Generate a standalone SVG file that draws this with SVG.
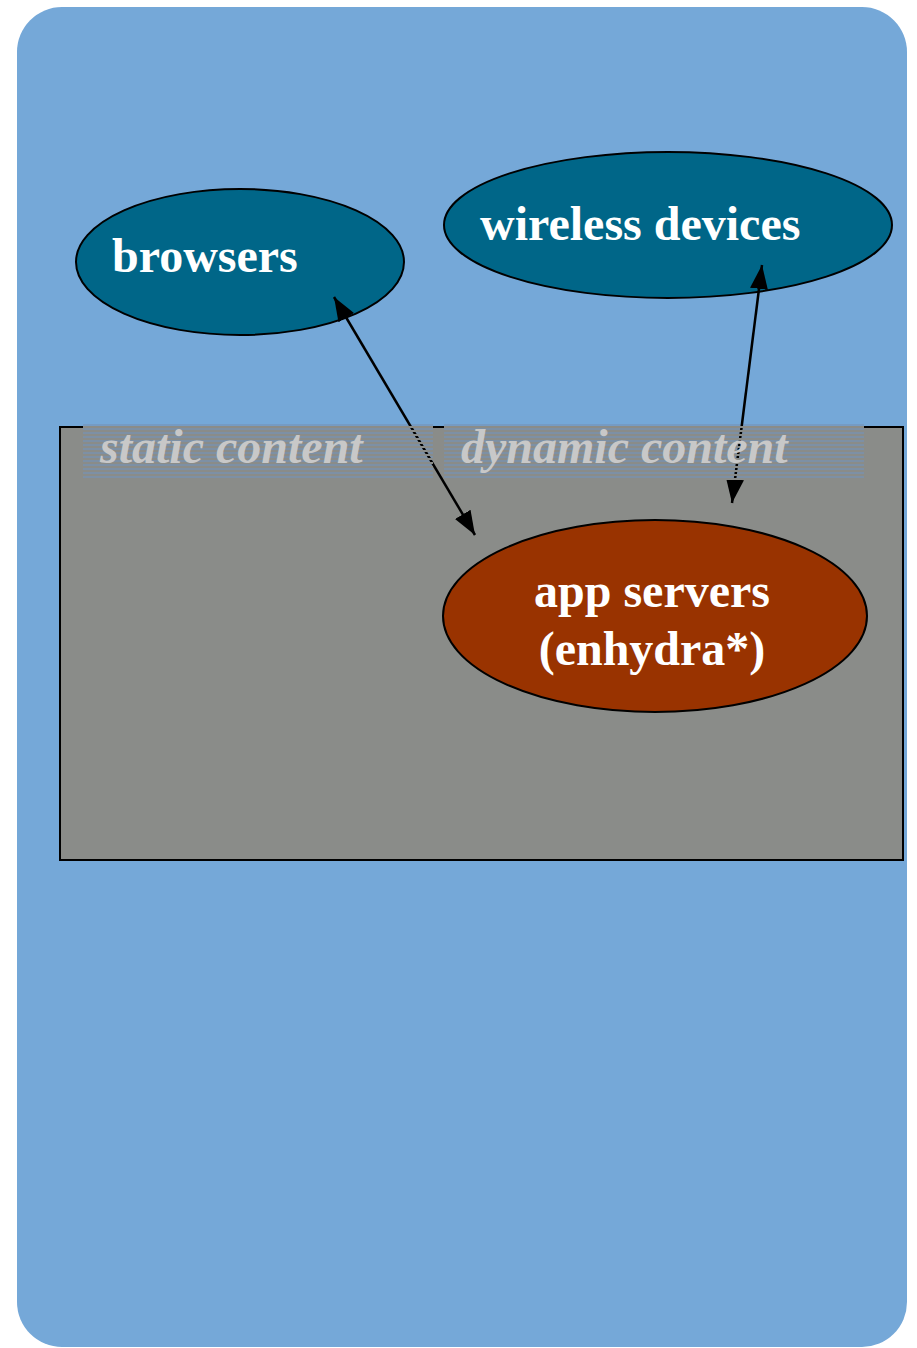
<svg xmlns="http://www.w3.org/2000/svg" width="917" height="1348" viewBox="0 0 917 1348">
<defs>
<pattern id="stripes" width="10" height="4" patternUnits="userSpaceOnUse" x="0" y="424">
<rect x="0" y="2" width="10" height="2" fill="#8a8c89"/>
</pattern>
<style>
.node{stroke:#000;stroke-width:2}
.lbl{font-family:"Liberation Serif","Times New Roman",serif;font-weight:bold;font-size:48px;fill:#fff}
.sec{font-family:"Liberation Serif","Times New Roman",serif;font-weight:bold;font-style:italic;font-size:48px;fill:#c8c8c8}
.conn{stroke:#000;stroke-width:2.5;fill:none}
.secbg{fill:#7493b8;fill-opacity:0.6}
</style>
<marker id="arr" viewBox="0 0 24 20" refX="24" refY="10" markerWidth="24" markerHeight="20" markerUnits="userSpaceOnUse" orient="auto-start-reverse">
<path d="M0,1 L24,10 L0,19 z" fill="#000"/>
</marker>
</defs>
<rect id="background" x="17" y="7" width="890" height="1340" rx="45" ry="45" fill="#75a8d8"/>
<g id="server-area">
<rect x="60" y="427" width="843" height="433" fill="#8a8c89" stroke="#000" stroke-width="2"/>
</g>
<rect class="secbg" x="83" y="424" width="350" height="56"/>
<rect class="secbg" x="444" y="424" width="420" height="56"/>
<g id="browsers">
<ellipse class="node" cx="240" cy="262" rx="164" ry="73" fill="#006688"/>
<text class="lbl" x="112" y="272">browsers</text>
</g>
<g id="wireless-devices">
<ellipse class="node" cx="668" cy="225" rx="224" ry="73" fill="#006688"/>
<text class="lbl" x="480" y="240">wireless devices</text>
</g>
<g id="connectors">
<line class="conn" x1="334" y1="297" x2="475" y2="535" marker-start="url(#arr)" marker-end="url(#arr)"/>
<line class="conn" x1="762" y1="265" x2="732" y2="503" marker-start="url(#arr)" marker-end="url(#arr)"/>
</g>
<g id="static-content">
<rect x="83" y="424" width="350" height="56" fill="url(#stripes)"/>
<text class="sec" x="100" y="463">static content</text>
</g>
<g id="dynamic-content">
<rect x="444" y="424" width="420" height="56" fill="url(#stripes)"/>
<text class="sec" x="461" y="463">dynamic content</text>
</g>
<g id="app-servers">
<ellipse class="node" cx="655" cy="616" rx="212" ry="96" fill="#993300"/>
<text class="lbl" x="652" y="607" text-anchor="middle">app servers</text>
<text class="lbl" x="652" y="665" text-anchor="middle">(enhydra*)</text>
</g>
</svg>
